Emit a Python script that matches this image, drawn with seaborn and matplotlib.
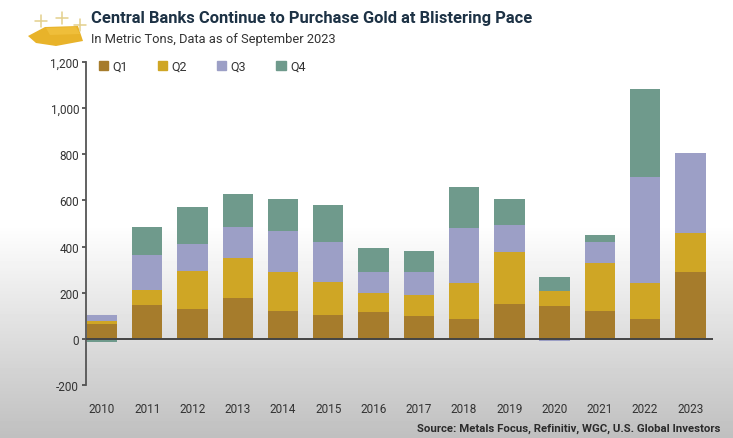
import numpy as np
import pandas as pd
import matplotlib
matplotlib.use("Agg")
import matplotlib.pyplot as plt
from matplotlib.patches import Polygon, Patch
import seaborn as sns

years = [2010, 2011, 2012, 2013, 2014, 2015, 2016, 2017, 2018, 2019, 2020, 2021, 2022, 2023]
q1 = [65, 145, 128, 175, 122, 105, 115, 97, 88, 150, 143, 120, 85, 290]
q2 = [12, 67, 164, 175, 166, 143, 82, 93, 152, 225, 64, 208, 155, 170]
q3 = [25, 153, 121, 133, 179, 170, 91, 100, 240, 117, -8, 92, 462, 345]
q4 = [-15, 120, 160, 147, 138, 162, 107, 90, 178, 116, 61, 32, 383, 0]
series_names = ["Q1", "Q2", "Q3", "Q4"]
series_colors = ["#a67c2c", "#cfa625", "#9c9fc6", "#6f9a8c"]
yticks = [-200, 0, 200, 400, 600, 800, 1000, 1200]

W, H = 733, 439
sns.set_theme(style="white")
plt.rcParams["font.family"] = ["Roboto", "DejaVu Sans"]

fig = plt.figure(figsize=(W / 100, H / 100), dpi=100)

# page background: white fading to grey toward the bottom
bg = fig.add_axes([0, 0, 1, 1], zorder=0)
shade = np.ones((H, 1))
start = 225
shade[start:, 0] = 1 - 0.25 * np.linspace(0, 1, H - start)
bg.imshow(shade, cmap="gray", vmin=0, vmax=1, aspect="auto",
          extent=(0, W, H, 0))
bg.set_xlim(0, W)
bg.set_ylim(H, 0)
bg.axis("off")

# gold bar emblem beside the title
gold = "#e8b32a"
bg.add_patch(Polygon([(28, 37), (45, 28), (78, 27), (83, 42), (56, 47), (36, 44)],
                     closed=True, color=gold, lw=0))
bg.add_patch(Polygon([(46, 29), (76, 28), (80, 35), (50, 36)], closed=True,
                     color="#efbe3a", lw=0))
for cx, cy, r in [(41, 22, 6), (62, 19, 6), (80, 26, 6)]:
    bg.plot([cx - r, cx + r], [cy, cy], color="#e3cf8c", lw=1.1)
    bg.plot([cx, cx], [cy - r, cy + r], color="#e3cf8c", lw=1.1)

left, right, top, bottom = 86, 713, 63, 386
ax = fig.add_axes([left / W, 1 - bottom / H, (right - left) / W, (bottom - top) / H],
                  zorder=1)
ax.patch.set_alpha(0)

frame = pd.DataFrame({"year": years, "Q1": q1, "Q2": q2, "Q3": q3, "Q4": q4})
pos_base = np.zeros(len(years))
neg_base = np.zeros(len(years))
for name, color in zip(series_names, series_colors):
    vals = frame[name].to_numpy(dtype=float)
    base = np.where(vals >= 0, pos_base, neg_base)
    sns.barplot(data=frame, x="year", y=name, bottom=base, color=color,
                width=0.67, saturation=1, linewidth=0, ax=ax, zorder=2)
    pos_base += np.clip(vals, 0, None)
    neg_base += np.clip(vals, None, 0)

ax.set_xlim(-0.354, 13.5)
ax.set_ylim(-200, 1200)
ax.set_xlabel("")
ax.set_ylabel("")
ax.set_yticks(yticks)
ax.set_yticklabels([f"{v:,}" for v in yticks])
ax.tick_params(axis="y", length=3, width=1.2, color="#444444", pad=2,
               labelsize=8.5, labelcolor="#333333", left=True)
ax.tick_params(axis="x", length=0, pad=12, labelsize=8.5, labelcolor="#333333")
for side in ("top", "right", "bottom"):
    ax.spines[side].set_visible(False)
ax.spines["left"].set_color("#555555")
ax.spines["left"].set_linewidth(1.3)
ax.axhline(0, color="#444444", lw=1.4, zorder=3)

handles = [Patch(color=c, label=n) for n, c in zip(series_names, series_colors)]
ax.legend(handles=handles, loc="upper left", bbox_to_anchor=(0.02, 1.006), ncol=4,
          frameon=False, fontsize=9, labelcolor="#333333", handlelength=0.75,
          handleheight=0.75, handletextpad=0.35, columnspacing=2.4, borderpad=0,
          borderaxespad=0)

fig.text(91 / W, 1 - 19 / H, "Central Banks Continue to Purchase Gold at Blistering Pace",
         fontsize=11.92, fontweight="bold", color="#1d3245", va="center", ha="left", zorder=3)
fig.text(91 / W, 1 - 40 / H, "In Metric Tons, Data as of September 2023",
         fontsize=9.3, color="#333333", va="center", ha="left", zorder=3)
fig.text(720 / W, 1 - 429 / H, "Source: Metals Focus, Refinitiv, WGC, U.S. Global Investors",
         fontsize=8.2, fontweight="bold", color="#2b2b2b", va="center", ha="right", zorder=3)

fig.savefig("out.png", dpi=100)
